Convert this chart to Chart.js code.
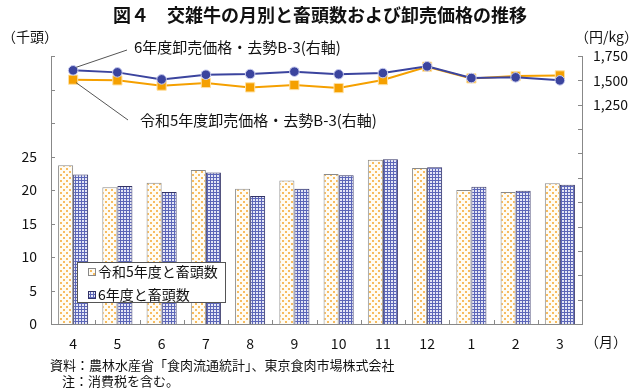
<!DOCTYPE html>
<html><head><meta charset="utf-8">
<script src="https://cdn.jsdelivr.net/npm/chart.js@4/dist/chart.umd.min.js"></script>
<style>html,body{margin:0;padding:0;background:#fff}#wrap{width:640px;height:390px}</style>
</head><body><div id="wrap"><canvas id="c" width="640" height="390"></canvas></div>
<script>
const months = ['4','5','6','7','8','9','10','11','12','1','2','3'];
const headR5 = [23.7,20.4,21.1,23.0,20.2,21.4,22.4,24.5,23.3,20.0,19.7,21.0];
const headR6 = [22.3,20.6,19.7,22.6,19.1,20.2,22.2,24.6,23.4,20.5,19.9,20.8];
const priceR5 = [1507,1500,1446,1473,1428,1452,1421,1503,1640,1520,1544,1551];
const priceR6 = [1603,1582,1510,1558,1565,1589,1562,1575,1644,1524,1531,1500];
const leftTicksShown = [0,5,10,15,20,25];
const rightTicksShown = [1250,1500,1750];
const labelR5bar = '令和5年度と畜頭数';
const labelR6bar = '6年度と畜頭数';
const labelR5line = '令和5年度卸売価格・去勢B-3(右軸)';
const labelR6line = '6年度卸売価格・去勢B-3(右軸)';

const FONT = "'Noto Sans CJK JP', 'Noto Sans', sans-serif";
const BLUE = '#3B449E';
const ORANGE = '#F5A000';

function makePattern(kind){
  const cv = document.createElement('canvas');
  const ctx = cv.getContext('2d');
  if(kind==='dots'){
    cv.width=6; cv.height=6;
    ctx.fillStyle='#FFFCF4'; ctx.fillRect(0,0,6,6);
    ctx.fillStyle='#F7BC60';
    ctx.fillRect(0,0,2,2); ctx.fillRect(3,3,2,2);
  } else {
    cv.width=3; cv.height=3;
    ctx.fillStyle='#E4E6F6'; ctx.fillRect(0,0,3,3);
    ctx.fillStyle='#5C66B8';
    ctx.fillRect(0,0,3,1); ctx.fillRect(0,0,1,3);
  }
  return ctx.createPattern(cv,'repeat');
}
const patR5 = makePattern('dots');
const patR6 = makePattern('grid');

const deco = {
  id:'deco',
  afterDraw(chart){
    const ctx = chart.ctx;
    const ca = chart.chartArea;
    const y = chart.scales.y, y1 = chart.scales.y1, x = chart.scales.x;
    ctx.save();
    // inward tick marks
    ctx.strokeStyle='#888'; ctx.lineWidth=1;
    ctx.beginPath();
    for(let v=y.min; v<=y.max; v+=5){
      const py=Math.round(y.getPixelForValue(v))+0.5;
      ctx.moveTo(ca.left, py); ctx.lineTo(ca.left+4, py);
    }
    for(let v=y1.min; v<=y1.max; v+=250){
      const py=Math.round(y1.getPixelForValue(v))+0.5;
      ctx.moveTo(ca.right, py); ctx.lineTo(ca.right-4, py);
    }
    for(let i=0;i<=months.length;i++){
      const px = Math.round(ca.left + (ca.right-ca.left)*i/months.length)+0.5;
      ctx.moveTo(px, ca.bottom); ctx.lineTo(px, ca.bottom-4);
    }
    ctx.stroke();

    // callout lines
    const m6 = chart.getDatasetMeta(3).data[0];
    const m5 = chart.getDatasetMeta(2).data[0];
    ctx.strokeStyle='#555'; ctx.lineWidth=1;
    ctx.beginPath();
    ctx.moveTo(m6.x+3, m6.y-3); ctx.lineTo(127, 50);
    ctx.moveTo(m5.x+3, m5.y+3); ctx.lineTo(128, 120);
    ctx.stroke();

    // texts
    ctx.fillStyle='#111';
    ctx.textBaseline='middle';
    ctx.font='bold 18px '+FONT; ctx.textAlign='center';
    ctx.fillText('図４　交雑牛の月別と畜頭数および卸売価格の推移', 320, 15);
    ctx.font='14px '+FONT; ctx.textAlign='left';
    ctx.fillText('（千頭）', 2, 37);
    ctx.textAlign='right';
    ctx.fillText('（円/kg）', 638, 37);
    ctx.textAlign='left';
    ctx.fillText('（月）', 585, 342);
    ctx.font='15px '+FONT;
    ctx.fillText(labelR6line, 134, 47);
    ctx.fillText(labelR5line, 140, 120);
    ctx.font='13px '+FONT;
    ctx.fillText('資料：農林水産省「食肉流通統計」、東京食肉市場株式会社', 50, 365);
    ctx.fillText('注：消費税を含む。', 62, 381);

    // legend box
    const bx=77, by=262, bw=148, bh=40;
    ctx.fillStyle='#fff'; ctx.fillRect(bx,by,bw,bh);
    ctx.strokeStyle='#555'; ctx.strokeRect(bx+0.5,by+0.5,bw,bh);
    ctx.fillStyle=patR5; ctx.fillRect(88,268,7,7);
    ctx.strokeStyle='#888'; ctx.strokeRect(88.5,268.5,7,7);
    ctx.fillStyle=patR6; ctx.fillRect(88,291,7,7);
    ctx.strokeStyle='#333366'; ctx.strokeRect(88.5,291.5,7,7);
    ctx.fillStyle='#111'; ctx.font='14px '+FONT;
    ctx.fillText(labelR5bar, 98, 272);
    ctx.fillText(labelR6bar, 98, 295);
    ctx.restore();
  }
};

new Chart(document.getElementById('c'), {
  data:{
    labels: months,
    datasets:[
      {type:'bar', label:labelR5bar, data:headR5, yAxisID:'y', order:3,
       backgroundColor:patR5, borderColor:'#8a8a8a', borderWidth:1,
       categoryPercentage:0.68, barPercentage:1.0},
      {type:'bar', label:labelR6bar, data:headR6, yAxisID:'y', order:4,
       backgroundColor:patR6, borderColor:'#333366', borderWidth:1,
       categoryPercentage:0.68, barPercentage:1.0},
      {type:'line', label:labelR5line, data:priceR5, yAxisID:'y1', order:2,
       borderColor:ORANGE, backgroundColor:ORANGE, borderWidth:2,
       pointStyle:'rect', pointRadius:6.5, pointBackgroundColor:ORANGE,
       pointBorderColor:'#FFE0A0', pointBorderWidth:1, tension:0},
      {type:'line', label:labelR6line, data:priceR6, yAxisID:'y1', order:1,
       borderColor:BLUE, backgroundColor:BLUE, borderWidth:2,
       pointStyle:'circle', pointRadius:4.8, pointBackgroundColor:BLUE,
       pointBorderColor:'#C8CCF0', pointBorderWidth:1, tension:0}
    ]
  },
  options:{
    responsive:false, animation:false, devicePixelRatio:1,
    layout:{padding:{top:56,left:0,right:0,bottom:0}},
    plugins:{legend:{display:false}, title:{display:false}, tooltip:{enabled:false}},
    scales:{
      x:{
        offset:true,
        grid:{display:false, drawTicks:false},
        border:{display:true, color:'#888'},
        ticks:{padding:11, color:'#111', font:{family:FONT, size:14}},
        afterFit(s){ s.height = 66; }
      },
      y:{
        position:'left', min:0, max:40,
        grid:{display:false, drawTicks:false},
        border:{display:true, color:'#888'},
        ticks:{stepSize:5, padding:14, color:'#111', font:{family:FONT, size:14},
          callback:(v)=> leftTicksShown.includes(v) ? String(v) : ''},
        afterFit(s){ s.width = 51; }
      },
      y1:{
        position:'right', min:-1000, max:1750,
        grid:{display:false, drawTicks:false},
        border:{display:true, color:'#888'},
        ticks:{stepSize:250, padding:11, color:'#111', font:{family:FONT, size:14},
          callback:(v)=> rightTicksShown.includes(v) ? v.toLocaleString('en-US') : ''},
        afterFit(s){ s.width = 58; }
      }
    }
  },
  plugins:[deco]
});
</script>
</body></html>
